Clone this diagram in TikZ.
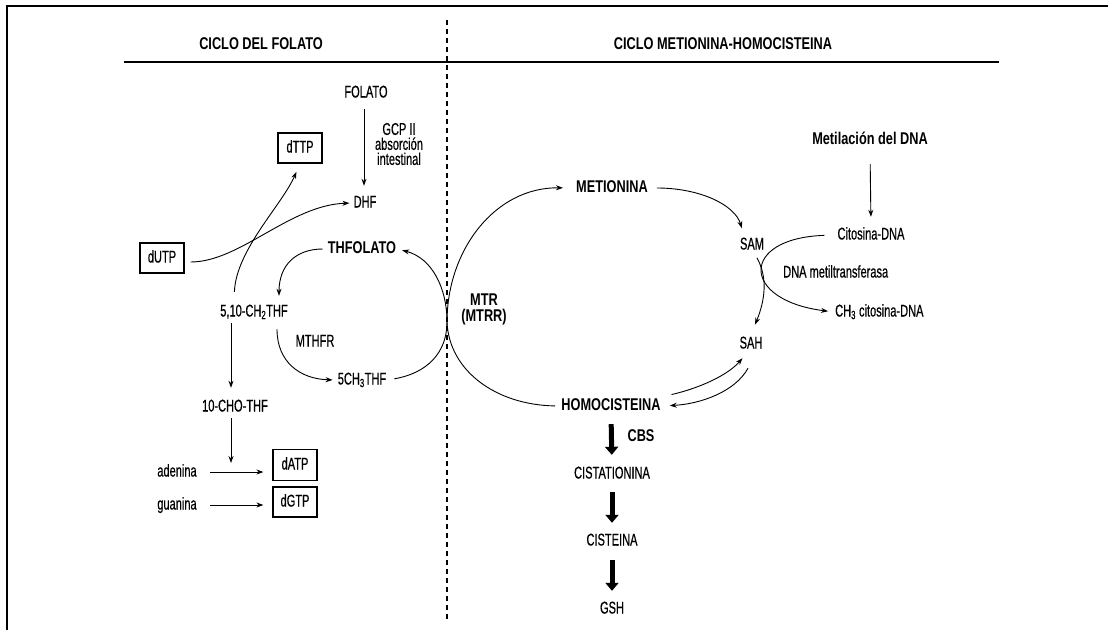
\documentclass[tikz,border=0pt]{standalone}
\usepackage{fontspec}
\setmainfont{Liberation Sans}[FakeStretch=0.65, FakeBold=0.5]
\newfontfamily\boldfam{Liberation Sans}[FakeStretch=0.75]
\usetikzlibrary{arrows.meta}
\tikzset{
  lbl/.style={inner sep=1pt, text height=12.5pt, text depth=3.5pt, font=\fontsize{17}{17}\selectfont},
  blbl/.style={lbl, font=\fontsize{17}{17}\selectfont\boldfam\bfseries},
  ml/.style={inner sep=1pt, align=center, font=\fontsize{17}{15}\selectfont},
  boxnode/.style={lbl, draw, line width=1.2pt, minimum width=44pt, minimum height=30pt},
  arr/.style={-{Stealth[length=7pt,width=5pt]}, line width=0.9pt},
  bigarr/.style={line width=5pt, -{Triangle[length=8pt,width=13pt]}},
}
\begin{document}
\begin{tikzpicture}[x=1pt,y=-1pt]
\useasboundingbox (0,0) rectangle (1108,630);
\fill[white] (0,0) rectangle (1108,630);
% frame, rule and divider
\draw[line width=2pt] (7,630) -- (7,6) -- (1108,6);
\draw[line width=1.2pt] (124,62) -- (999,62);
\draw[line width=2.6pt, dash pattern=on 5pt off 4pt] (447,20) -- (447,622);

% headings
\node[blbl] (hdrL) at (261,45) {CICLO DEL FOLATO};
\node[blbl] (hdrR) at (723,45) {CICLO METIONINA-HOMOCISTEINA};

% folate cycle
\node[lbl] (folato) at (366,93) {FOLATO};
\node[ml] (gcp) at (399,144) {GCP II\\absorción\\intestinal};
\node[lbl] (dhf) at (365,203) {DHF};
\node[boxnode] (dttp) at (300,148) {dTTP};
\node[boxnode] (dutp) at (162,258) {dUTP};
\node[blbl] (thf) at (362,249) {THFOLATO};
\node[lbl] (ch2) at (254,312) {5,10-CH\textsubscript{2}THF};
\node[lbl] (mthfr) at (315,342) {MTHFR};
\node[lbl] (ch3) at (362,380) {5CH\textsubscript{3}THF};
\node[lbl] (cho) at (235,407) {10-CHO-THF};
\node[lbl] (aden) at (177,472) {adenina};
\node[lbl] (guan) at (177,505) {guanina};
\node[boxnode, minimum height=31pt] (datp) at (295,465) {dATP};
\node[boxnode] (dgtp) at (295,502) {dGTP};
\coordinate (join) at (231,463);

% MTR
\node[ml, font=\fontsize{17}{16}\selectfont\boldfam\bfseries] (mtr) at (484,309) {MTR\\(MTRR)};
\coordinate (touch) at (447,322);

% methionine cycle
\node[blbl] (met) at (612,188) {METIONINA};
\node[lbl] (sam) at (752,245) {SAM};
\node[lbl] (sah) at (751,344) {SAH};
\node[blbl] (metil) at (870,140) {Metilación del DNA};
\node[lbl] (cit) at (871,235) {Citosina-DNA};
\node[lbl, anchor=west] (dnam) at (782,273) {DNA metiltransferasa};
\node[lbl, anchor=west] (ch3cit) at (834,312) {CH\textsubscript{3} citosina-DNA};
\node[blbl] (homo) at (611,406) {HOMOCISTEINA};
\node[blbl] (cbs) at (641,437) {CBS};
\node[lbl] (cista) at (612,474) {CISTATIONINA};
\node[lbl] (cist) at (612,541) {CISTEINA};
\node[lbl] (gsh) at (612,609) {GSH};

% straight arrows (folate side)
\draw[arr, shorten <=7pt, shorten >=8pt] ([xshift=-2pt]folato.south) -- ([xshift=-2pt]folato.south |- dhf.north);
\draw[arr, shorten <=2pt, shorten >=10pt] ([xshift=-23pt]ch2.south) -- ([xshift=-23pt]ch2.south |- cho.north);
\draw[arr, shorten <=2pt] ([xshift=-4pt]cho.south) -- (join);
\draw[arr, shorten <=12pt, shorten >=9pt] (aden.east) -- (aden.east -| datp.west);
\draw[arr, shorten <=12pt, shorten >=9pt] (guan.east) -- (guan.east -| dgtp.west);

% curved arrows (folate side)
\draw[arr, shorten <=6pt, shorten >=3pt] ([yshift=-4pt]dutp.east) .. controls (240,262) and (290,205) .. (dhf.west);
\draw[arr, shorten <=11pt, shorten >=9pt] ([xshift=-20pt]ch2.north) .. controls (236,250) and (282,205) .. (dttp.south);
\draw[arr, shorten <=4pt, shorten >=7pt] (thf.west) .. controls (296,249) and (279,265) .. ([xshift=25pt]ch2.north);
\draw[arr, shorten <=8pt, shorten >=4pt] ([xshift=23pt]ch2.south) .. controls (277,362) and (300,379) .. (ch3.west);

% MTR curves
\draw[arr, shorten <=7pt, shorten >=5pt] (ch3.east) .. controls (428,373) and (447,352) .. (touch)
      .. controls (447,288) and (432,258) .. (thf.east);
\draw[arr, shorten <=5pt, shorten >=12pt] (homo.west) .. controls (495,405) and (449,370) .. (touch)
      .. controls (447,250) and (495,187) .. (met.west);

% methionine cycle arrows
\draw[arr, shorten <=8pt, shorten >=8pt] (met.east) .. controls (700,188) and (735,205) .. ([xshift=-8pt]sam.north);
\draw[arr, shorten <=4pt, shorten >=11pt] ([xshift=3pt]sam.south) .. controls (768,278) and (765,300) .. (sah.north);
\draw[arr, shorten <=15pt, shorten >=9pt] (metil.south) -- (cit.north);
\draw[arr, shorten <=12pt, shorten >=6pt] (cit.west) .. controls (740,238) and (740,300) .. (ch3cit.west);
\draw[arr, shorten <=10pt] (homo.north east) .. controls (700,388) and (728,375) .. ([xshift=4pt,yshift=-5pt]sah.south west);
\draw[arr, shorten >=8pt] ([xshift=-3pt,yshift=-15pt]sah.south) .. controls (735,392) and (700,404) .. (homo.east);

% transsulfuration
\draw[bigarr, shorten <=9pt, shorten >=10pt] (homo.south) -- (cista.north);
\draw[bigarr, shorten <=9pt, shorten >=9pt] (cista.south) -- (cist.north);
\draw[bigarr, shorten <=10pt, shorten >=9pt] (cist.south) -- (gsh.north);
\end{tikzpicture}
\end{document}
